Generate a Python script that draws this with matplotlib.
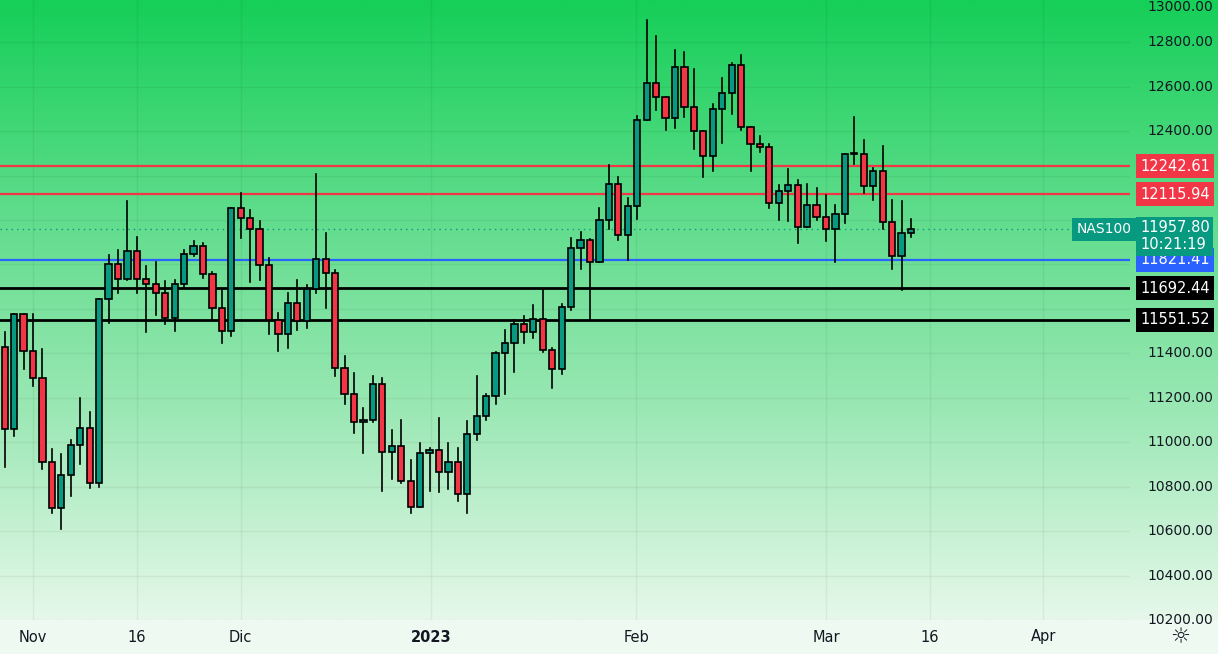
import matplotlib
matplotlib.use("Agg")
import matplotlib.pyplot as plt
import numpy as np
from matplotlib.colors import LinearSegmentedColormap

opens = [11430,11058,11578,11412,11287,10909,10703,10851,10986,11062,10815,11646,11803,11736,11861,11736,11713,11673,11561,11713,11848,11884,11758,11605,11502,
         12054,12009,11960,11798,11551,11489,11628,11547,11691,11825,11762,11336,11219,11089,11098,11260,10954,10981,10824,10707,10950,10963,10864,10909,10766,
         11035,11120,11210,11403,11448,11534,11498,11556,11417,11331,11610,11875,11911,11812,12001,12162,11933,12063,12450,12616,12553,12459,12688,12508,
         12400,12288,12499,12571,12696,12418,12342,12328,12077,12131,12158,11969,12068,12014,11960,12027,12297,12297,12153,12220,11992,11839,11942]
closes = [11058,11578,11412,11287,10909,10703,10851,10986,11062,10815,11646,11803,11736,11861,11736,11713,11673,11561,11713,11848,11884,11758,11605,11502,12054,
          12009,11960,11798,11551,11489,11628,11547,11691,11825,11762,11336,11219,11089,11098,11260,10954,10981,10824,10707,10950,10963,10864,10909,10766,11035,
          11120,11210,11403,11448,11534,11498,11556,11417,11331,11610,11875,11911,11812,12001,12162,11933,12063,12450,12616,12553,12459,12688,12508,12400,
          12288,12499,12571,12696,12418,12342,12328,12077,12131,12158,11969,12068,12014,11960,12027,12297,12297,12153,12220,11992,11839,11942,11957.8]
highs = [11498,11578,11578,11578,11421,10968,10945,11008,11201,11134,11646,11843,11866,12086,11924,11794,11812,11727,11731,11866,11906,11897,11767,11691,12054,
         12122,12045,11996,11830,11583,11673,11731,11709,12207,11942,11776,11390,11313,11152,11296,11291,11053,11098,10918,10995,10972,11107,10995,10972,11094,
         11300,11219,11408,11507,11551,11570,11619,11691,11426,11623,11920,11947,11915,12054,12247,12193,12099,12468,12898,12826,12553,12764,12755,12679,
         12400,12522,12638,12705,12741,12418,12378,12342,12158,12229,12180,12162,12144,12113,12068,12297,12463,12360,12234,12333,12090,12086,12005]
lows = [10887,11026,11331,11251,10878,10680,10609,10757,10900,10793,10797,11538,11673,11730,11673,11498,11574,11534,11502,11700,11840,11740,11556,11448,11480,
        11920,11722,11731,11489,11412,11426,11507,11516,11673,11605,11296,11174,11040,10950,11089,10779,10833,10815,10680,10707,10779,10775,10788,10734,10680,
        11010,11100,11174,11219,11318,11448,11471,11408,11246,11309,11596,11780,11556,11812,11960,11911,11821,12005,12450,12495,12405,12414,12463,12320,
        12194,12221,12346,12477,12405,12221,12306,12054,12001,11996,11897,11969,12001,11906,11812,11987,12252,12122,12090,11960,11780,11686,11924]

tick_pos = [3, 14, 25, 45.2, 66.9, 87, 98, 110]
tick_labels = ["Nov", "16", "Dic", "2023", "Feb", "Mar", "16", "Apr"]
price_ticks = list(range(10200, 13001, 200))
hlines = [(12242.61, "#f23645"), (12115.94, "#f23645"), (11821.41, "#2962ff"), (11692.44, "#000000"), (11551.52, "#000000")]
last_price = 11957.80

W, H = 1218, 654
fig = plt.figure(figsize=(W/100, H/100), dpi=100)
fig.patch.set_facecolor("#eefaf1")

cmap = LinearSegmentedColormap.from_list("g", ["#e6f8ea", "#9ce8b5", "#5ddc8a", "#15cf58"])
bg = fig.add_axes([0, 34/H, 1, 620/H], zorder=0)
bg.imshow(np.linspace(0, 1, 256).reshape(-1, 1), origin="lower", aspect="auto", cmap=cmap, extent=[0, 1, 0, 1])
bg.axis("off")

ax = fig.add_axes([0, 34/H, 1130/W, 620/H], zorder=1)
ax.patch.set_alpha(0)
ymin, ymax = 10200, 12990
ax.set_xlim(-0.5, 119.2)
ax.set_ylim(ymin, ymax)

for p in price_ticks:
    ax.axhline(p, color="#000000", alpha=0.05, lw=1, zorder=1)
for t in tick_pos:
    ax.axvline(t, color="#000000", alpha=0.05, lw=1, zorder=1)

for y, c in hlines:
    lw = 2 if c == "#000000" else 1.6
    ax.axhline(y, color=c, lw=lw, zorder=2)
ax.axhline(last_price, color="#089981", lw=1, ls=(0, (1, 3)), zorder=2)

for i, (o, h, l, c) in enumerate(zip(opens, highs, lows, closes)):
    col = "#089981" if c >= o else "#f23645"
    ax.plot([i, i], [l, h], color="black", lw=1.2, zorder=3)
    bot = min(o, c); hh = max(abs(c - o), 4)
    ax.add_patch(plt.Rectangle((i - 0.33, bot), 0.66, hh, facecolor=col, edgecolor="black", lw=1.2, zorder=4))

ax.set_xticks([]); ax.set_yticks([])
for s in ax.spines.values():
    s.set_visible(False)

def fy(p):
    return 34/H + (p - ymin) / (ymax - ymin) * 620/H

box_prices = [y for y, _ in hlines] + [last_price - 20]
for p in price_ticks:
    if min(abs(p - b) for b in box_prices) < 70:
        continue
    va = "top" if p >= 12950 else "center"
    fig.text(1147/W, fy(p) if p < 12950 else 1.0, f"{p:.2f}", fontsize=10, color="#131722", va=va, ha="left")
for t, lab in zip(tick_pos, tick_labels):
    xf = (t + 0.5) / 119.7 * 1130 / W
    fig.text(xf, 17/H, lab, fontsize=10.5, color="#131722", ha="center", va="center",
             fontweight="bold" if lab == "2023" else "normal")

def box(p, txt, color, tc="white"):
    fig.text(1140/W, fy(p), txt, fontsize=10.5, color=tc, va="center", ha="left", zorder=5,
             bbox=dict(boxstyle="square,pad=0.3", fc=color, ec="none"))

box(12242.61, "12242.61", "#f23645")
box(12115.94, "12115.94", "#f23645")
box(11821.41, "11821.41", "#2962ff")
box(11692.44, "11692.44", "#000000")
box(11551.52, "11551.52", "#000000")
fig.text(1140/W, fy(last_price) - 7/H, "11957.80\n10:21:19", fontsize=10.5, color="white", va="center", ha="left",
         linespacing=1.15, zorder=5, bbox=dict(boxstyle="square,pad=0.25", fc="#089981", ec="none"))
fig.text(1077/W, fy(last_price), "NAS100", fontsize=10, color="white", va="center", ha="left", zorder=5,
         bbox=dict(boxstyle="square,pad=0.35", fc="#089981", ec="none"))
fig.text(1180/W, 17/H, "☼", fontsize=16, color="#131722", ha="center", va="center")

fig.savefig("out.png", dpi=100, facecolor=fig.get_facecolor())
